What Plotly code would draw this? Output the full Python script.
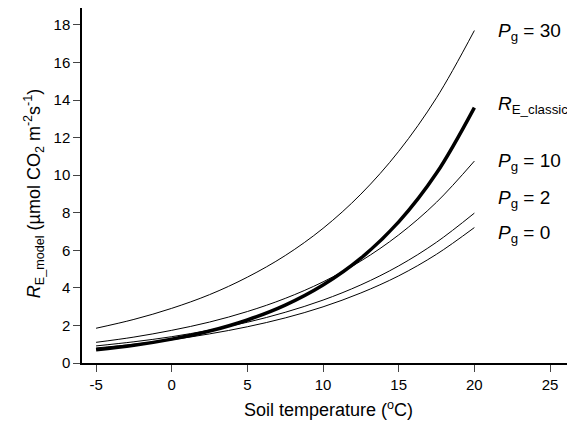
import plotly.graph_objects as go

temp = [-5, -2.5, 0, 2.5, 5, 7.5, 10, 12.5, 15, 17.5, 20]
pg30 = [1.85, 2.32, 2.91, 3.64, 4.57, 5.72, 7.17, 8.99, 11.27, 14.12, 17.70]
re_classic = [0.70, 0.94, 1.27, 1.70, 2.29, 3.08, 4.15, 5.58, 7.51, 10.11, 13.60]
pg10 = [1.10, 1.38, 1.74, 2.18, 2.74, 3.44, 4.32, 5.43, 6.82, 8.56, 10.75]
pg2 = [0.91, 1.13, 1.40, 1.75, 2.17, 2.70, 3.35, 4.16, 5.17, 6.43, 7.98]
pg0 = [0.80, 1.00, 1.24, 1.55, 1.93, 2.40, 2.99, 3.73, 4.64, 5.79, 7.21]

x_ticks = [-5, 0, 5, 10, 15, 20, 25]
x_ticktext = ["-5", "0", "5", "10", "15", "20", "25"]
y_ticks = [0, 2, 4, 6, 8, 10, 12, 14, 16, 18]

labels = [
    ("<i>P</i><sub>g</sub> = 30", 17.62),
    ("<i>R</i><sub>E_classic</sub>", 13.72),
    ("<i>P</i><sub>g</sub> = 10", 10.68),
    ("<i>P</i><sub>g</sub> = 2", 8.72),
    ("<i>P</i><sub>g</sub> = 0", 6.86),
]

font = "Liberation Sans, Arial, sans-serif"
fig = go.Figure()
for ys, w in [(pg30, 1), (pg10, 1), (pg2, 1), (pg0, 1), (re_classic, 3.5)]:
    fig.add_trace(go.Scatter(x=temp, y=ys, mode="lines",
                             line=dict(color="black", width=w, shape="spline"),
                             showlegend=False, hoverinfo="skip"))

for txt, yv in labels:
    fig.add_annotation(x=21.4, y=yv, xref="x", yref="y", text=txt, showarrow=False,
                       xanchor="left", yanchor="middle",
                       font=dict(family=font, size=19, color="black"))

# y-axis title as rotated annotation for precise placement
fig.add_annotation(x=-0.099, y=9.05, xref="paper", yref="y", textangle=-90,
                   text="<i>R</i><sub>E_model</sub> (µmol CO<sub>2</sub> m<sup>-2</sup>s<sup>-1</sup>)",
                   showarrow=False, xanchor="center", yanchor="middle",
                   font=dict(family=font, size=18, color="black"))

fig.update_layout(
    width=567, height=418,
    margin=dict(l=74, r=0, t=0, b=63),
    plot_bgcolor="white", paper_bgcolor="white",
    font=dict(family=font, color="black"),
)
fig.update_xaxes(range=[-5.93, 26.65], tickvals=x_ticks, ticktext=x_ticktext,
                 ticks="outside", ticklen=7, automargin=False,
                 tickwidth=1.3, linecolor="black", linewidth=1.5, mirror=True,
                 showgrid=False, zeroline=False, tickfont=dict(size=15),
                 title=dict(text="Soil temperature (<sup>o</sup>C)", font=dict(size=18), standoff=12))
fig.update_yaxes(range=[0, 18.9], tickvals=y_ticks, ticks="outside", ticklen=7,
                 tickwidth=1.3, linecolor="black", linewidth=1.5, automargin=False,
                 showgrid=False, zeroline=False, tickfont=dict(size=15))
fig.write_html("out.html")
